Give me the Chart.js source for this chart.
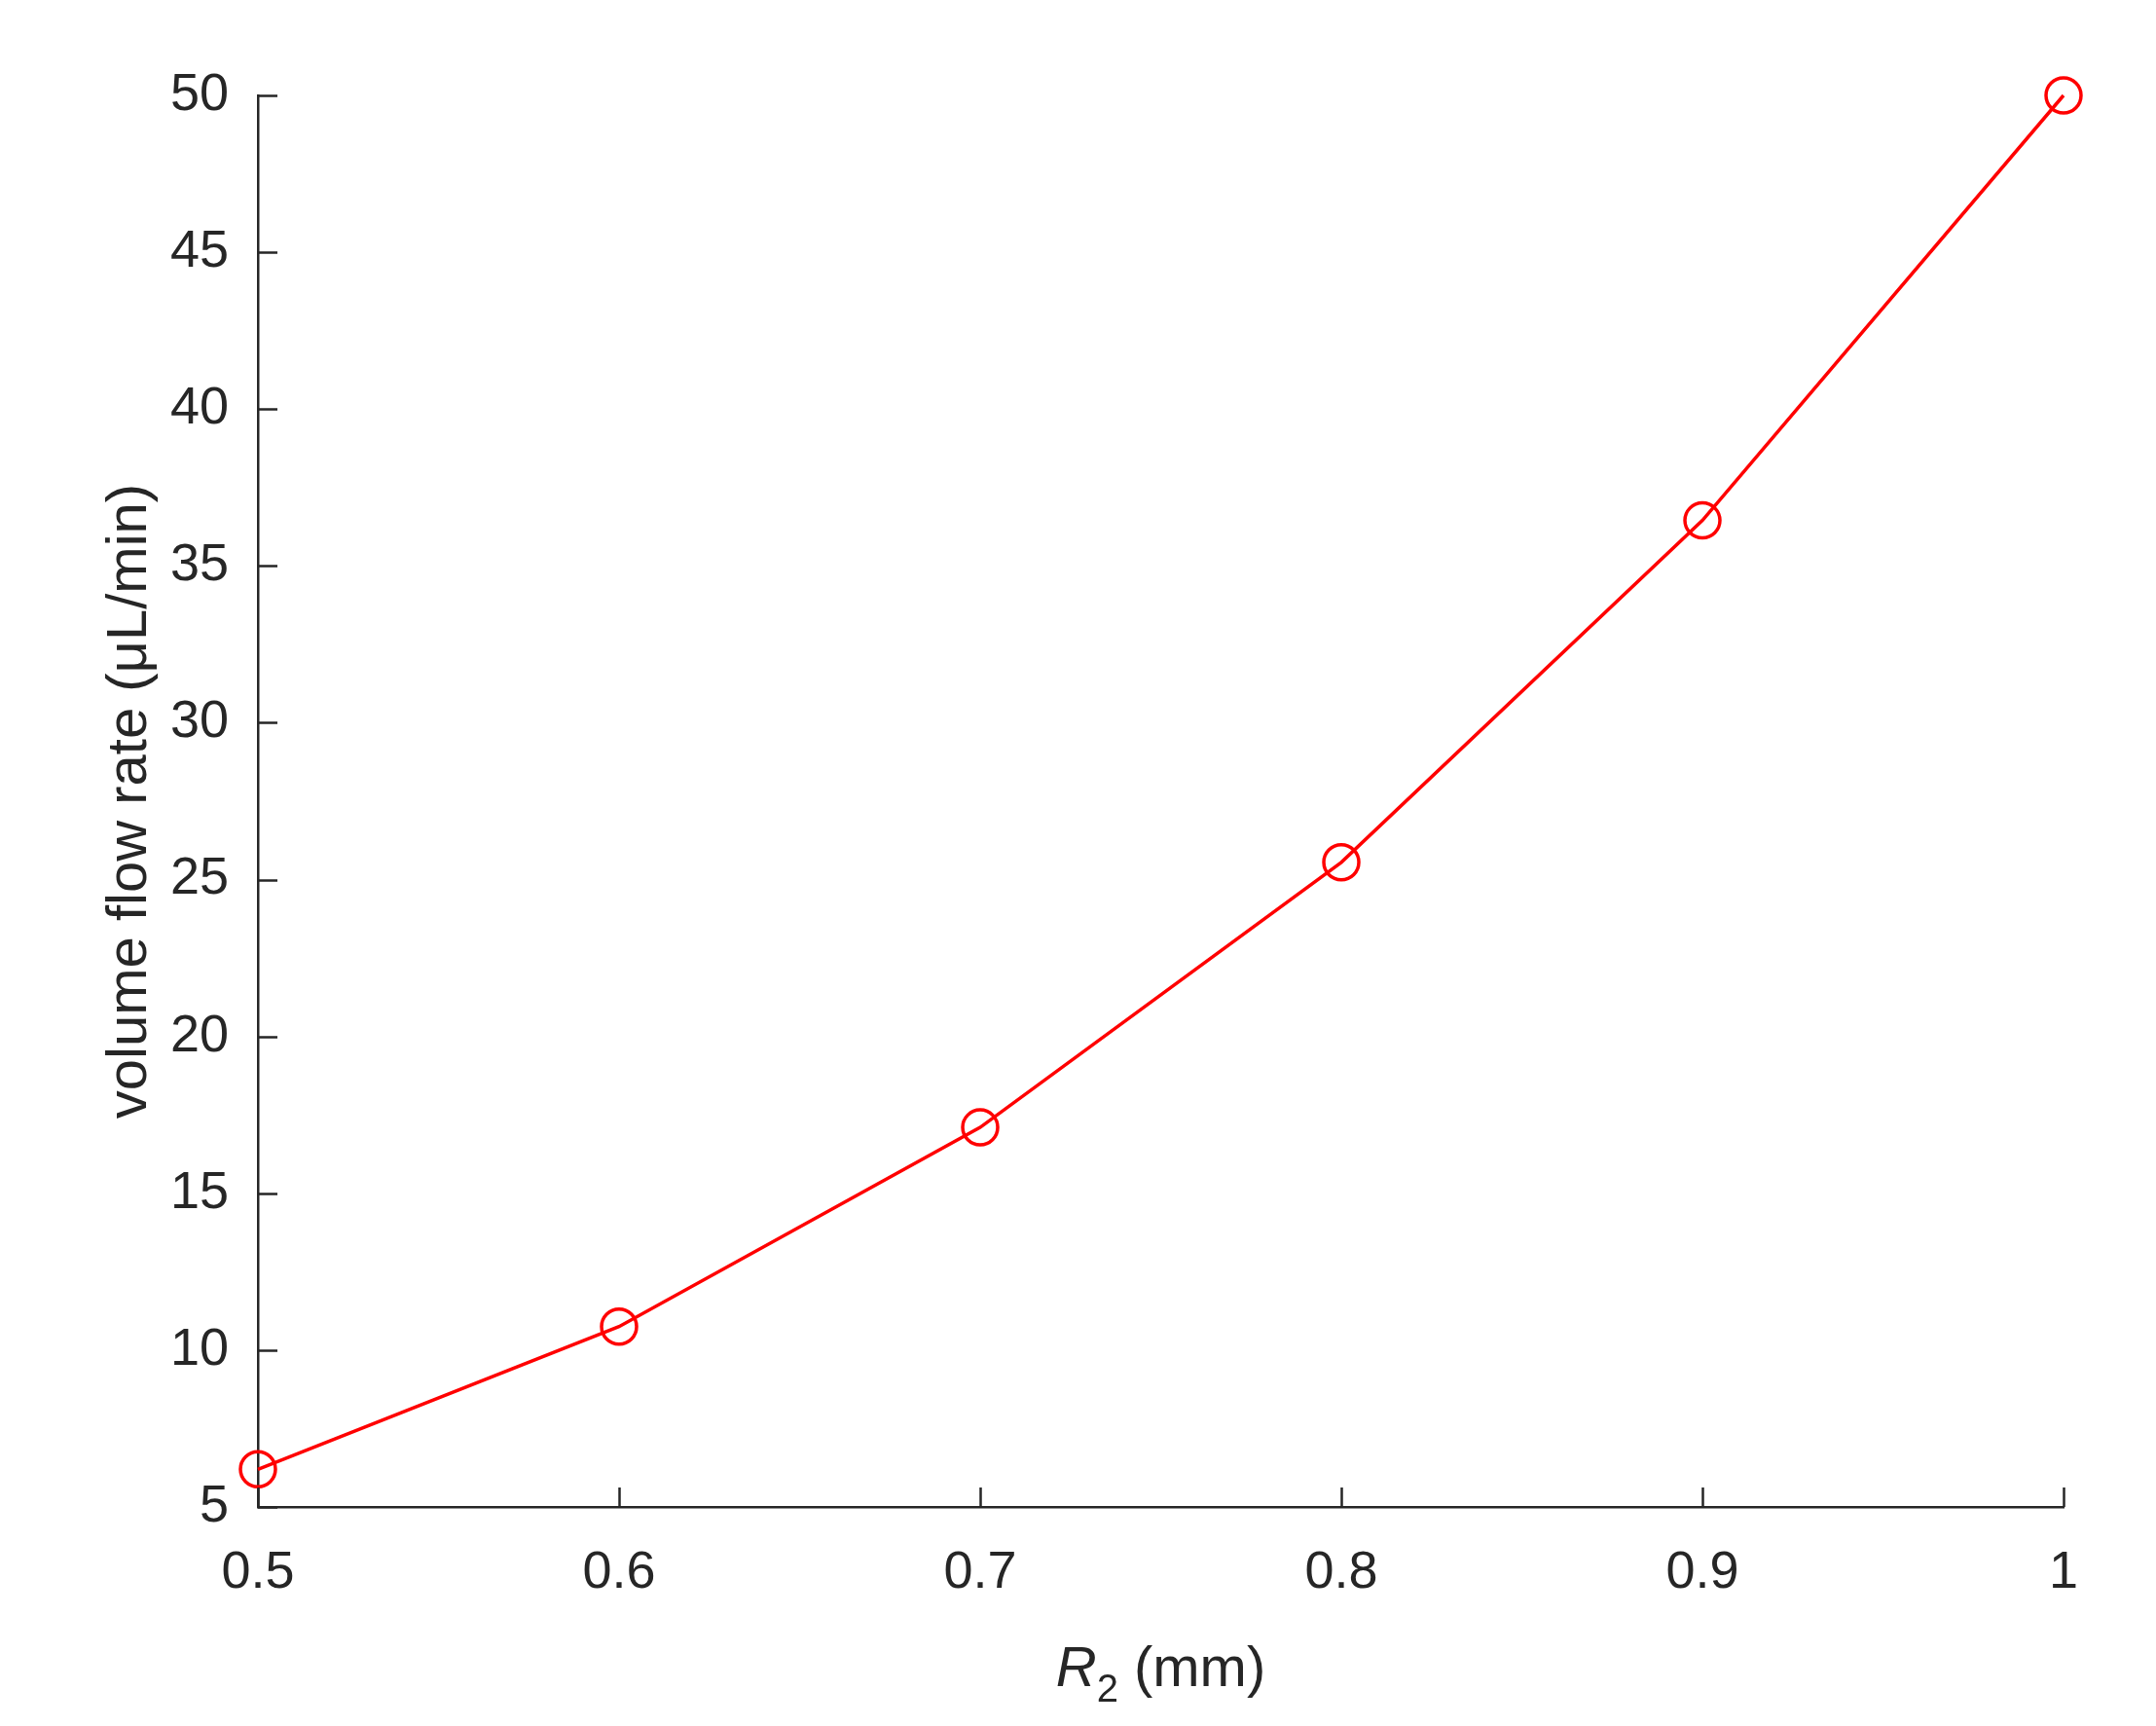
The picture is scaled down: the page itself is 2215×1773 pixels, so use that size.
<!DOCTYPE html>
<html>
<head>
<meta charset="utf-8">
<script src="https://cdn.jsdelivr.net/npm/chart.js@4"></script>
<style>
  body { margin: 0; background: #fff; }
  canvas { display: block; }
</style>
</head>
<body>
<canvas id="flowChart" width="2215" height="1773"></canvas>
<script>
const radius = [0.5, 0.6, 0.7, 0.8, 0.9, 1.0];
const flowRate = [6.2, 10.75, 17.1, 25.55, 36.45, 50.0];
const yTicks = [5, 10, 15, 20, 25, 30, 35, 40, 45, 50];

const textColor = '#262626';
const fontFamily = '"Liberation Sans", Arial, sans-serif';

// MATLAB-style inward ticks plus the axis titles
const axisDecor = {
    id: 'axisDecor',
    afterDraw(chart) {
        const { ctx, scales: { x, y }, chartArea } = chart;
        ctx.save();
        ctx.strokeStyle = textColor;
        ctx.lineWidth = 2.5;
        const len = 20;
        radius.forEach(v => {
            const px = Math.round(x.getPixelForValue(v)) + 0.5;
            ctx.beginPath();
            ctx.moveTo(px, chartArea.bottom);
            ctx.lineTo(px, chartArea.bottom - len);
            ctx.stroke();
        });
        yTicks.forEach(v => {
            const py = Math.round(y.getPixelForValue(v)) + 0.5;
            ctx.beginPath();
            ctx.moveTo(chartArea.left, py);
            ctx.lineTo(chartArea.left + len, py);
            ctx.stroke();
        });

        // x title: italic R with subscript 2
        ctx.fillStyle = textColor;
        ctx.textBaseline = 'alphabetic';
        const base = 1732;
        const parts = [
            { t: 'R', f: `italic 58px ${fontFamily}`, dy: 0 },
            { t: '2', f: `40px ${fontFamily}`, dy: 16 },
            { t: ' (mm)', f: `58px ${fontFamily}`, dy: 0 }
        ];
        let total = 0;
        parts.forEach(p => { ctx.font = p.f; p.w = ctx.measureText(p.t).width; total += p.w; });
        let cx = (chartArea.left + chartArea.right) / 2 - total / 2;
        ctx.textAlign = 'left';
        parts.forEach(p => { ctx.font = p.f; ctx.fillText(p.t, cx, base + p.dy); cx += p.w; });

        // y title
        ctx.translate(150, (chartArea.top + chartArea.bottom) / 2);
        ctx.rotate(-Math.PI / 2);
        ctx.font = `58px ${fontFamily}`;
        ctx.textAlign = 'center';
        ctx.fillText('volume flow rate (\u03bcL/min)', 0, 0);
        ctx.restore();
    }
};

new Chart(document.getElementById('flowChart').getContext('2d'), {
    type: 'line',
    data: {
        datasets: [{
            data: radius.map((r, i) => ({ x: r, y: flowRate[i] })),
            borderColor: '#ff0000',
            borderWidth: 3.5,
            pointRadius: 18,
            pointBorderWidth: 3.5,
            pointBackgroundColor: 'rgba(0,0,0,0)',
            pointBorderColor: '#ff0000',
            tension: 0,
            fill: false,
            clip: false
        }]
    },
    options: {
        responsive: false,
        animation: false,
        layout: { padding: { top: 98, right: 95, left: 0, bottom: 0 } },
        plugins: { legend: { display: false }, tooltip: { enabled: false } },
        scales: {
            x: {
                type: 'linear',
                min: 0.5, max: 1,
                afterBuildTicks: s => { s.ticks = radius.map(v => ({ value: v })); },
                afterFit: s => { s.height = 225; },
                grid: { display: false },
                border: { display: true, color: textColor, width: 2.5 },
                ticks: {
                    color: textColor, padding: 28,
                    font: { family: fontFamily, size: 54 },
                    callback: v => String(Math.round(v * 10) / 10)
                }
            },
            y: {
                min: 5, max: 50,
                afterBuildTicks: s => { s.ticks = yTicks.map(v => ({ value: v })); },
                afterFit: s => { s.width = 265; },
                grid: { display: false },
                border: { display: true, color: textColor, width: 2.5 },
                ticks: {
                    color: textColor, padding: 22,
                    font: { family: fontFamily, size: 54 }
                }
            }
        }
    },
    plugins: [axisDecor]
});
</script>
</body>
</html>
